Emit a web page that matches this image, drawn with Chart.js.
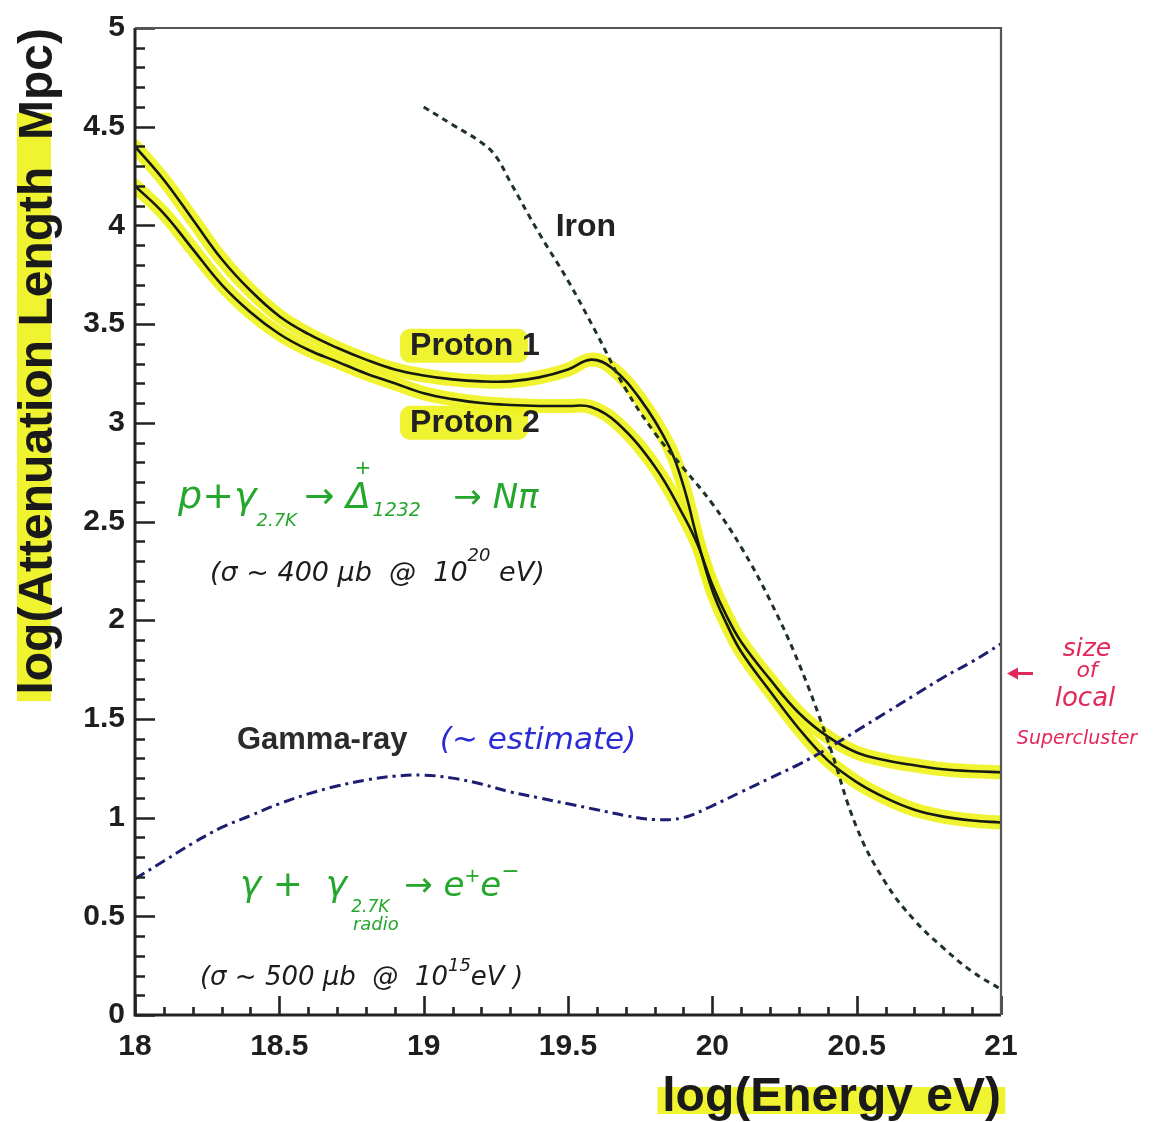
<!DOCTYPE html>
<html><head><meta charset="utf-8">
<script src="https://cdn.jsdelivr.net/npm/chart.js@4.4.1/dist/chart.umd.min.js"></script>
<style>html,body{margin:0;padding:0;background:#fff}#wrap{width:1157px;height:1122px}</style>
</head><body><div id="wrap"><canvas id="c" width="1157" height="1122"></canvas></div>
<script>
// ---- data ----
const proton1X = [18.0,18.1,18.2,18.3,18.4,18.5,18.6,18.7,18.8,18.9,19.0,19.1,19.2,19.3,19.4,19.5,19.58,19.65,19.75,19.85,19.9,19.95,20.0,20.05,20.1,20.2,20.3,20.4,20.5,20.6,20.7,20.8,20.9,21.0];
const proton1Y = [4.40,4.23,4.03,3.83,3.67,3.54,3.45,3.38,3.32,3.27,3.24,3.22,3.21,3.21,3.23,3.27,3.32,3.28,3.12,2.88,2.68,2.40,2.15,1.98,1.84,1.64,1.45,1.29,1.18,1.10,1.04,1.005,0.985,0.975];
const proton2X = [18.0,18.1,18.2,18.3,18.4,18.5,18.6,18.7,18.8,18.9,19.0,19.1,19.2,19.3,19.4,19.5,19.58,19.67,19.8,19.9,19.95,20.0,20.05,20.1,20.2,20.3,20.4,20.5,20.6,20.7,20.8,20.9,21.0];
const proton2Y = [4.20,4.06,3.88,3.70,3.56,3.45,3.37,3.31,3.25,3.20,3.15,3.12,3.10,3.09,3.085,3.085,3.08,3.00,2.78,2.53,2.38,2.18,2.02,1.89,1.70,1.53,1.41,1.33,1.29,1.265,1.245,1.235,1.23];
const ironX = [19.0,19.1,19.2,19.25,19.3,19.4,19.5,19.6,19.7,19.8,19.9,20.0,20.1,20.2,20.3,20.4,20.5,20.6,20.7,20.8,20.9,21.0];
const ironY = [4.60,4.51,4.42,4.35,4.22,3.96,3.72,3.45,3.17,2.95,2.77,2.59,2.37,2.10,1.78,1.39,0.95,0.67,0.48,0.34,0.22,0.13];
const gammaX = [18.0,18.1,18.2,18.3,18.4,18.5,18.6,18.7,18.8,18.9,19.0,19.1,19.2,19.3,19.4,19.5,19.6,19.7,19.8,19.9,20.0,20.1,20.2,20.3,20.4,20.5,20.6,20.7,20.8,20.9,21.0];
const gammaY = [0.69,0.78,0.87,0.95,1.01,1.07,1.12,1.16,1.19,1.21,1.215,1.20,1.17,1.13,1.10,1.07,1.04,1.01,0.99,1.00,1.06,1.13,1.20,1.27,1.35,1.44,1.53,1.62,1.71,1.79,1.88];
const xTickValues = [18,18.5,19,19.5,20,20.5,21];
const yTickValues = [0,0.5,1,1.5,2,2.5,3,3.5,4,4.5,5];

const pts = (xs, ys) => xs.map((x, i) => ({x, y: ys[i]}));
const YELLOW = 'rgba(238,242,30,0.92)';
const FONT = '"Liberation Sans", Arial, Helvetica, sans-serif';
const HAND = '"DejaVu Sans", sans-serif';

const boxAndTicks = {
  id: 'boxAndTicks',
  beforeDraw(chart) {
    const {ctx, chartArea: a, scales: {x, y}} = chart;
    ctx.save();
    ctx.fillStyle = YELLOW;
    const hy1 = y.getPixelForValue(4.57), hy2 = y.getPixelForValue(1.59);
    ctx.fillRect(17, hy1, 34, hy2 - hy1);
    const hx1 = x.getPixelForValue(19.81), hx2 = x.getPixelForValue(21.015);
    ctx.fillRect(hx1, a.bottom + 72, hx2 - hx1, 27);
    [3.39, 3.0].forEach(v => {
      const px = x.getPixelForValue(18.918), w = x.getPixelForValue(19.362) - px;
      const py = y.getPixelForValue(v);
      ctx.beginPath();
      ctx.roundRect(px, py - 17, w, 34, 10);
      ctx.fill();
    });
    ctx.restore();
  },
  afterDatasetsDraw(chart) {
    const {ctx, chartArea: a, scales: {x, y}} = chart;
    ctx.save();
    ctx.strokeStyle = '#222';
    ctx.lineWidth = 2.6;
    ctx.beginPath();
    for (let i = 0; i <= 50; i++) {
      const v = i / 10, py = Math.round(y.getPixelForValue(v)) + 0.5;
      const len = (i % 5 === 0) ? 20 : 10;
      ctx.moveTo(a.left, py); ctx.lineTo(a.left + len, py);
    }
    for (let i = 0; i <= 30; i++) {
      const v = 18 + i / 10, px = Math.round(x.getPixelForValue(v)) + 0.5;
      const len = (i % 5 === 0) ? 19 : 8;
      ctx.moveTo(px, a.bottom); ctx.lineTo(px, a.bottom - len);
    }
    ctx.stroke();
    ctx.lineWidth = 3;
    ctx.strokeStyle = '#222';
    ctx.beginPath();
    ctx.moveTo(a.left, a.top); ctx.lineTo(a.left, a.bottom); ctx.lineTo(a.right, a.bottom);
    ctx.stroke();
    ctx.lineWidth = 2.2;
    ctx.strokeStyle = '#555';
    ctx.beginPath();
    ctx.moveTo(a.left, a.top); ctx.lineTo(a.right, a.top); ctx.lineTo(a.right, a.bottom);
    ctx.stroke();

    ctx.textBaseline = 'middle';
    ctx.fillStyle = '#222';
    ctx.font = 'bold 32px ' + FONT;
    ctx.textAlign = 'center';
    ctx.fillText('Iron', x.getPixelForValue(19.562), y.getPixelForValue(3.99));
    ctx.textAlign = 'left';
    ctx.fillText('Proton 1', x.getPixelForValue(18.953), y.getPixelForValue(3.39));
    ctx.fillText('Proton 2', x.getPixelForValue(18.953), y.getPixelForValue(3.0));
    ctx.fillStyle = '#2b2b2b';
    ctx.font = 'bold 31px ' + FONT;
    ctx.fillText('Gamma-ray', x.getPixelForValue(18.353), y.getPixelForValue(1.39));

    const runs = (x0, y0, list, color) => {
      let cx = x0;
      ctx.fillStyle = color;
      ctx.textBaseline = 'alphabetic';
      ctx.textAlign = 'left';
      list.forEach(r => {
        ctx.font = (r.w || 'italic') + ' ' + r.s + 'px ' + HAND;
        ctx.fillText(r.t, cx + (r.dx || 0), y0 + (r.dy || 0));
        if (!r.nox) cx += ctx.measureText(r.t).width + (r.dx || 0);
      });
    };
    runs(x.getPixelForValue(19.056), y.getPixelForValue(1.35), [{t:'(\u223C estimate)', s:31}], '#2b2bd6');
    runs(x.getPixelForValue(18.149), y.getPixelForValue(2.57), [
      {t:'p+\u03B3', s:38}, {t:'2.7K', s:18, dy:18, dx:0},
      {t:' \u2192 \u0394', s:36, dx:-4}, {t:'+', s:20, dy:-34, dx:-16, nox:true},
      {t:'1232', s:19, dy:8, dx:2}, {t:'   \u2192 N\u03C0', s:34}
    ], '#25a62d');
    runs(x.getPixelForValue(18.26), y.getPixelForValue(2.20), [
      {t:'(\u03C3 ~ 400 \u03BCb  @  10', s:27}, {t:'20', s:18, dy:-20}, {t:' eV)', s:27}
    ], '#1c1c1c');
    runs(x.getPixelForValue(18.364), y.getPixelForValue(0.605), [
      {t:'\u03B3 +  \u03B3', s:36}, {t:'2.7K', s:17, dy:16, dx:4}, {t:' \u2192 e', s:34, dx:4},
      {t:'+', s:19, dy:-14}, {t:'e', s:34}, {t:'\u2212', s:22, dy:-18}
    ], '#25a62d');
    runs(x.getPixelForValue(18.755), y.getPixelForValue(0.43), [{t:'radio', s:18}], '#25a62d');
    runs(x.getPixelForValue(18.225), y.getPixelForValue(0.15), [
      {t:'(\u03C3 ~ 500 \u03BCb  @  10', s:26}, {t:'15', s:18, dy:-14}, {t:'eV )', s:26}
    ], '#1c1c1c');

    const red = '#e2285a';
    const ay = y.getPixelForValue(1.73);
    ctx.strokeStyle = red; ctx.fillStyle = red; ctx.lineWidth = 3;
    ctx.beginPath(); ctx.moveTo(a.right + 32, ay); ctx.lineTo(a.right + 16, ay); ctx.stroke();
    ctx.beginPath(); ctx.moveTo(a.right + 6, ay); ctx.lineTo(a.right + 17, ay - 6); ctx.lineTo(a.right + 17, ay + 6); ctx.closePath(); ctx.fill();
    ctx.textAlign = 'center';
    ctx.textBaseline = 'middle';
    ctx.font = 'italic 25px ' + HAND;
    ctx.fillText('size', a.right + 86, y.getPixelForValue(1.85));
    ctx.font = 'italic 22px ' + HAND;
    ctx.fillText('of', a.right + 86, y.getPixelForValue(1.74));
    ctx.font = 'italic 26px ' + HAND;
    ctx.fillText('local', a.right + 84, y.getPixelForValue(1.60));
    ctx.font = 'italic 19px ' + HAND;
    ctx.fillText('Supercluster', a.right + 76, y.getPixelForValue(1.40));
    ctx.restore();
  }
};

new Chart(document.getElementById('c'), {
  type: 'scatter',
  data: {
    datasets: [
      {label: 'Proton 1 hl', data: pts(proton1X, proton1Y), showLine: true, borderColor: YELLOW, borderWidth: 14, pointRadius: 0, tension: 0.4, order: 10, borderCapStyle: 'round'},
      {label: 'Proton 2 hl', data: pts(proton2X, proton2Y), showLine: true, borderColor: YELLOW, borderWidth: 14, pointRadius: 0, tension: 0.4, order: 10, borderCapStyle: 'round'},
      {label: 'Proton 1', data: pts(proton1X, proton1Y), showLine: true, borderColor: '#151a12', borderWidth: 2.6, pointRadius: 0, tension: 0.4, order: 2},
      {label: 'Proton 2', data: pts(proton2X, proton2Y), showLine: true, borderColor: '#151a12', borderWidth: 2.6, pointRadius: 0, tension: 0.4, order: 2},
      {label: 'Iron', data: pts(ironX, ironY), showLine: true, borderColor: '#1e3326', borderWidth: 3, borderDash: [6, 5], pointRadius: 0, tension: 0.4, order: 1},
      {label: 'Gamma-ray', data: pts(gammaX, gammaY), showLine: true, borderColor: '#1d1d72', borderWidth: 3, borderDash: [11, 5, 3, 5], pointRadius: 0, tension: 0.4, order: 1}
    ]
  },
  options: {
    responsive: false,
    animation: false,
    events: [],
    layout: {padding: {top: 24, right: 156, left: 0, bottom: 0}},
    plugins: {legend: {display: false}, tooltip: {enabled: false}},
    scales: {
      x: {
        type: 'linear', min: 18, max: 21,
        afterFit: s => { s.height = 107; },
        afterBuildTicks: s => { s.ticks = xTickValues.map(v => ({value: v})); },
        grid: {display: false, drawTicks: false},
        border: {display: false},
        ticks: {autoSkip: false, maxRotation: 0, padding: 14, color: '#1e1e1e', font: {family: FONT, weight: 'bold', size: 30}, callback: v => String(v)},
        title: {display: true, text: 'log(Energy eV)', align: 'end', color: '#1a1a1a', font: {family: FONT, weight: 'bold', size: 48, lineHeight: 1.0}, padding: {top: 0, bottom: 0}}
      },
      y: {
        type: 'linear', min: 0, max: 5,
        afterFit: s => { s.width = 135; },
        afterBuildTicks: s => { s.ticks = yTickValues.map(v => ({value: v})); },
        grid: {display: false, drawTicks: false},
        border: {display: false},
        ticks: {autoSkip: false, padding: 10, color: '#1e1e1e', font: {family: FONT, weight: 'bold', size: 30}, callback: v => String(v)},
        title: {display: true, text: 'log(Attenuation Length  Mpc)', align: 'end', color: '#1a1a1a', font: {family: FONT, weight: 'bold', size: 48, lineHeight: 1.1}, padding: {top: 12, bottom: 8}}
      }
    }
  },
  plugins: [boxAndTicks]
});
</script></body></html>
